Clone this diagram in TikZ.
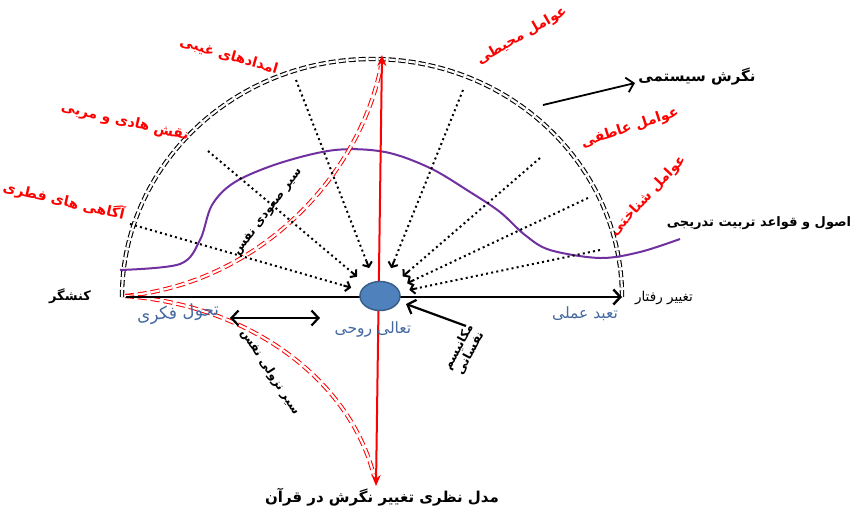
\documentclass[tikz,border=0pt]{standalone}
\usepackage{fontspec}
\usepackage{tikz}
\usetikzlibrary{arrows.meta,calc,shapes.geometric}
\newfontfamily\fa[Script=Arabic]{DejaVu Sans}
\TeXXeTstate=1
\definecolor{lblblue}{RGB}{68,104,160}
\definecolor{ballfill}{RGB}{79,129,189}
\definecolor{balldraw}{RGB}{56,93,138}
\definecolor{attpurple}{RGB}{112,48,160}

\begin{document}
\begin{tikzpicture}[x=1pt, y=1pt, >={Straight Barb[length=7pt,width=15pt]},
  redlbl/.style={text=red, font=\fa\bfseries\fontsize{14}{16}\selectfont},
  blklbl/.style={font=\fa\bfseries\fontsize{13}{15}\selectfont},
  bluelbl/.style={text=lblblue, font=\fa\fontsize{15.5}{17}\selectfont},
  pathlbl/.style={font=\fa\bfseries\fontsize{12}{13}\selectfont, align=center, inner sep=1pt},
  rays/.style={line width=2pt, dash pattern=on 2pt off 3.2pt},
  raytip/.style={line width=2pt, -{Straight Barb[length=4pt,width=10pt]}},
  nafs/.style={draw=red, double=white, double distance=2.2pt, line width=1pt, dash pattern=on 9pt off 4pt}]
  \useasboundingbox (0,0) rectangle (856,-515);
  % dome
  \draw[double, double distance=2.2pt, line width=1.1pt, dash pattern=on 7pt off 3pt]
    (122,-297) arc[start angle=180, end angle=0, x radius=250, y radius=238];
  % attitude curve
  \draw[attpurple, line width=2pt] plot[smooth, tension=0.55] coordinates {(120,-270) (180,-264) (200,-240) (212,-205) (235,-182) (280,-163) (335,-150) (385,-152) (430,-168) (470,-192) (500,-212) (525,-235) (550,-250) (600,-258) (640,-252) (680,-239)};
  % ascent / descent of the self
  \coordinate (kn0) at (125,-296);
  \coordinate (up) at (382,-55);
  \coordinate (down) at (376,-486);
  \draw[nafs] (kn0) .. controls (260,-283) and (360,-175) .. (381,-66);
  \draw[nafs] (kn0) .. controls (250,-305) and (350,-380) .. (374,-476);
  \draw[red, line width=2pt, {Stealth[length=11pt,width=9pt]}-{Stealth[length=11pt,width=9pt]}] (down) -- (up);
  % behaviour axis
  \coordinate (ax0) at (126,-297);
  \coordinate (ax1) at (622,-297);
  \draw[line width=2.4pt, ->] (ax0) -- (ax1);
  \node[ellipse, draw=balldraw, fill=ballfill, line width=1.5pt, minimum width=40pt, minimum height=29pt, inner sep=0pt] (soul) at (380,-296) {};
  % factors
  \foreach \x/\y [count=\i] in {130/-224, 208/-151, 296/-80, 463/-90, 540/-158, 588/-198, 600/-250}
    \coordinate (r\i) at (\x,\y);
  \foreach \i in {1,...,7} {
    \coordinate (e\i) at ($(soul.center)!30pt!(r\i)$);
    \coordinate (t\i) at ($(soul.center)!38pt!(r\i)$);
    \draw[rays] (r\i) -- (t\i);
    \draw[raytip] (t\i) -- (e\i);
  }
  \node[redlbl, rotate=-13] (fitra) at (64,-201) {\beginR آگاهی های فطری\endR};
  \node[redlbl, rotate=-13] (guide) at (125,-122) {\beginR نقش هادی و مربی\endR};
  \node[redlbl, rotate=-16] (ghayb) at (229,-56) {\beginR امدادهای غیبی\endR};
  \node[redlbl, rotate=30] (env) at (522,-36) {\beginR عوامل محیطی\endR};
  \node[redlbl, rotate=18] (emo) at (630,-128) {\beginR عوامل عاطفی\endR};
  \node[redlbl, rotate=47, inner sep=1pt] (cog) at (648,-196) {\beginR عوامل شناختی\endR};
  % system view
  \node[blklbl, font=\fa\bfseries\fontsize{15}{17}\selectfont] (sys) at (697,-77) {\beginR نگرش سیستمی\endR};
  \coordinate (s0) at (543,-105);
  \coordinate (s1) at (635,-83);
  \draw[line width=1.8pt, ->] (s0) -- (s1);
  \node[blklbl] (rules) at (759,-223) {\beginR اصول و قواعد تربیت تدریجی\endR};
  \node[blklbl] (actor) at (70,-296) {\beginR کنشگر\endR};
  \node[font=\fa\fontsize{13.5}{15}\selectfont] (beh) at (664,-298) {\beginR تغییر رفتار\endR};
  % stages
  \node[bluelbl, rotate=5, font=\fa\fontsize{17}{19}\selectfont] (think) at (178,-314) {\beginR تحول فکری\endR};
  \node[bluelbl] (spirit) at (373,-329) {\beginR تعالی روحی\endR};
  \node[bluelbl] (deed) at (585,-314) {\beginR تعبد عملی\endR};
  \coordinate (d0) at (230,-318);
  \coordinate (d1) at (320,-318);
  \draw[line width=2.2pt, <->] (d0) -- (d1);
  % paths of the self
  \node[pathlbl, rotate=53] (asc) at (268,-212) {\beginR سیر صعودی نفس\endR};
  \node[pathlbl, rotate=-57] (desc) at (270,-372) {\beginR سیر نزولی نفس\endR};
  \node[pathlbl, rotate=62] (mech) at (464,-350) {\beginR مکانیسم\endR\\\beginR نفسانی\endR};
  \coordinate (m0) at (466,-326);
  \coordinate (m1) at (406,-304);
  \draw[line width=2.2pt, ->] (m0) -- (m1);
  % caption
  \node[blklbl, font=\fa\bfseries\fontsize{15}{17}\selectfont] (title) at (382,-497) {\beginR مدل نظری تغییر نگرش در قرآن\endR};
\end{tikzpicture}
\end{document}
